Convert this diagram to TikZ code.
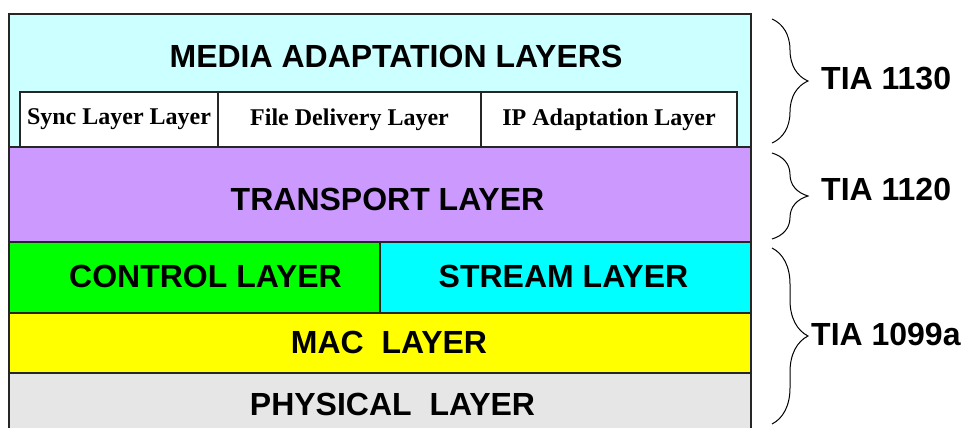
\documentclass[tikz,border=0pt]{standalone}
\usepackage{fontspec}
\setmainfont{Liberation Serif}
\newfontfamily\headfont{Liberation Sans}
\usetikzlibrary{positioning, calc, decorations.pathreplacing}
\definecolor{mediaC}{HTML}{CCFFFF}
\definecolor{transC}{HTML}{CC99FF}
\definecolor{ctrlC}{HTML}{00FF00}
\definecolor{streamC}{HTML}{00FFFF}
\definecolor{macC}{HTML}{FFFF00}
\definecolor{physC}{HTML}{E6E6E6}
\tikzstyle{Layer} = [
	draw=black!85, line width=1.6pt,
	outer sep=0pt, inner sep=0pt
	]
\tikzstyle{Txt} = [
	inner sep=0pt,
	font=\headfont\bfseries\fontsize{32}{38}\selectfont
	]
\tikzstyle{SubLayer} = [
	draw=black!85, fill=white, line width=1.3pt,
	outer sep=0pt, inner sep=0pt,
	minimum height=55pt,
	font=\bfseries\fontsize{24}{28}\selectfont
	]
\tikzstyle{Brace} = [
	line width=1pt,
	decoration={brace, amplitude=36pt, aspect=0.5},
	decorate
	]
\tikzstyle{Std} = [
	Txt, anchor=west
	]

\begin{document}
\begin{tikzpicture}[x=1pt, y=-1pt]
	\useasboundingbox (0,0) rectangle (962,428);
	\clip (0,0) rectangle (962,428);
	%layers:
		\node [Layer, fill=mediaC, minimum width=742pt, minimum height=133pt,
			anchor=north west] (media) at (9,14) {};
		\node [Txt, anchor=base] (mediatxt) at (396,67)
			{MEDIA ADAPTATION LAYERS};
		\node [SubLayer, minimum width=198pt, anchor=south west] (sync)
			at ($(media.south west)+(11,0)$) {Sync Layer Layer};
		\node [SubLayer, minimum width=263pt, right=0pt of sync] (filedel)
			{File Delivery Layer};
		\node [SubLayer, minimum width=256pt, right=0pt of filedel] (ipad)
			{IP Adaptation Layer};
		\node [Layer, fill=transC, minimum width=742pt, minimum height=95pt,
			below=0pt of media,
			label={[Txt, xshift=7.5pt, yshift=-4.5pt]center:TRANSPORT LAYER}]
			(transport) {};
		\node [Layer, fill=ctrlC, minimum width=371pt, minimum height=71pt,
			anchor=north west,
			label={[Txt, xshift=11pt, yshift=1pt]center:CONTROL LAYER}]
			(control) at (transport.south west) {};
		\node [Layer, fill=streamC, minimum width=371pt, minimum height=71pt,
			anchor=north east,
			label={[Txt, xshift=-2pt, yshift=1pt]center:STREAM LAYER}]
			(stream) at (transport.south east) {};
		\node [Layer, fill=macC, minimum width=742pt, minimum height=60pt,
			anchor=north west,
			label={[Txt, xshift=9pt, yshift=1pt]center:MAC\ \ LAYER}]
			(mac) at (control.south west) {};
		\node [Layer, fill=physC, minimum width=742pt, minimum height=62pt,
			anchor=north west,
			label={[Txt, xshift=12.5pt]center:PHYSICAL\ \ LAYER}]
			(phys) at (mac.south west) {};
	%braces:
		\draw [Brace] (772,19) -- (772,143);
		\draw [Brace] (772,153) -- (772,239);
		\draw [Brace] (772,248) -- (772,424);
	%standards:
		\node [Std] (tia1130) at (821,79) {TIA 1130};
		\node [Std] (tia1120) at (821,189) {TIA 1120};
		\node [Std] (tia1099) at (811,334) {TIA 1099a};
\end{tikzpicture}
\end{document}
